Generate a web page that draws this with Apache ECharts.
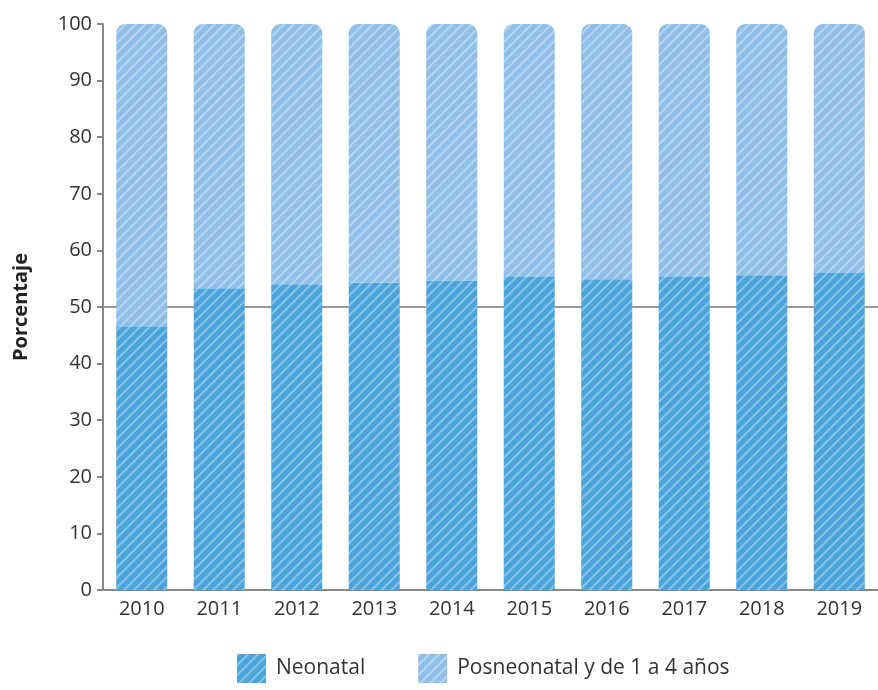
<!DOCTYPE html>
<html>
<head>
<meta charset="utf-8">
<script src="https://cdn.jsdelivr.net/npm/echarts@6/dist/echarts.min.js"></script>
<style>
  html, body { margin: 0; padding: 0; background: #fff; }
  #chart { width: 878px; height: 690px; }
</style>
</head>
<body>
<div id="chart"></div>
<script>
/************************        Neonatal vs posneonatal share                       **************************/

var years = ['2010', '2011', '2012', '2013', '2014', '2015', '2016', '2017', '2018', '2019'];
var neonatal = [46.6, 53.3, 54.0, 54.3, 54.7, 55.3, 54.9, 55.3, 55.6, 56.0];
var posneonatal = [53.4, 46.7, 46.0, 45.7, 45.3, 44.7, 45.1, 44.7, 44.4, 44.0];
var yTicks = [0, 10, 20, 30, 40, 50, 60, 70, 80, 90, 100];
var refLine = 50;

var font = '"Open Sans", "Noto Sans", sans-serif';

var stripes = {
    symbol: 'rect',
    color: 'rgba(255,255,255,0.35)',
    dashArrayX: [1, 0],
    dashArrayY: [1.4, 4.4],
    rotation: -Math.PI / 4
};

var dom = document.getElementById('chart');
var myChart = echarts.init(dom);
var option = {
    animation: false,
    textStyle: { fontFamily: font },
    grid: {
        left: 103,
        top: 24,
        width: 787,
        height: 566
    },
    legend: {
        bottom: 2,
        left: 232,
        icon: 'rect',
        itemWidth: 29,
        itemHeight: 29,
        itemGap: 53,
        textStyle: { fontSize: 21, color: '#333', fontFamily: font, padding: [0, 0, 0, 5] },
        data: ['Neonatal', 'Posneonatal y de 1 a 4 años']
    },
    xAxis: {
        type: 'category',
        data: years,
        axisLine: { lineStyle: { color: '#888', width: 2 } },
        axisTick: { show: false },
        axisLabel: { fontSize: 20, color: '#333', margin: 9, fontFamily: font }
    },
    yAxis: [
        {
            type: 'value',
            min: yTicks[0],
            max: yTicks[yTicks.length - 1],
            interval: 10,
            name: 'Porcentaje',
            nameLocation: 'middle',
            nameGap: 72,
            nameTextStyle: { fontSize: 20, fontWeight: 'bold', color: '#222', fontFamily: font },
            axisLine: { show: true, lineStyle: { color: '#888', width: 2 } },
            axisTick: { show: true, length: 6, lineStyle: { color: '#888', width: 2 } },
            splitLine: { show: false },
            axisLabel: { fontSize: 20, color: '#333', margin: 11, fontFamily: font }
        },
        {
            // only used to draw the reference line at 50 behind the bars
            type: 'value',
            position: 'left',
            min: yTicks[0],
            max: yTicks[yTicks.length - 1],
            interval: refLine,
            axisLine: { show: false },
            axisTick: { show: false },
            axisLabel: { show: false },
            splitLine: {
                show: true,
                showMinLine: false,
                showMaxLine: false,
                lineStyle: { color: '#999', width: 2 }
            }
        }
    ],
    series: [
        {
            name: 'Neonatal',
            type: 'bar',
            stack: 'total',
            barWidth: 51,
            itemStyle: { color: '#4aa3db', decal: stripes },
            data: neonatal
        },
        {
            name: 'Posneonatal y de 1 a 4 años',
            type: 'bar',
            stack: 'total',
            barWidth: 51,
            itemStyle: { color: '#8fbee6', borderRadius: [9, 9, 0, 0], decal: stripes },
            data: posneonatal
        }
    ]
};

myChart.setOption(option);
</script>
</body>
</html>
